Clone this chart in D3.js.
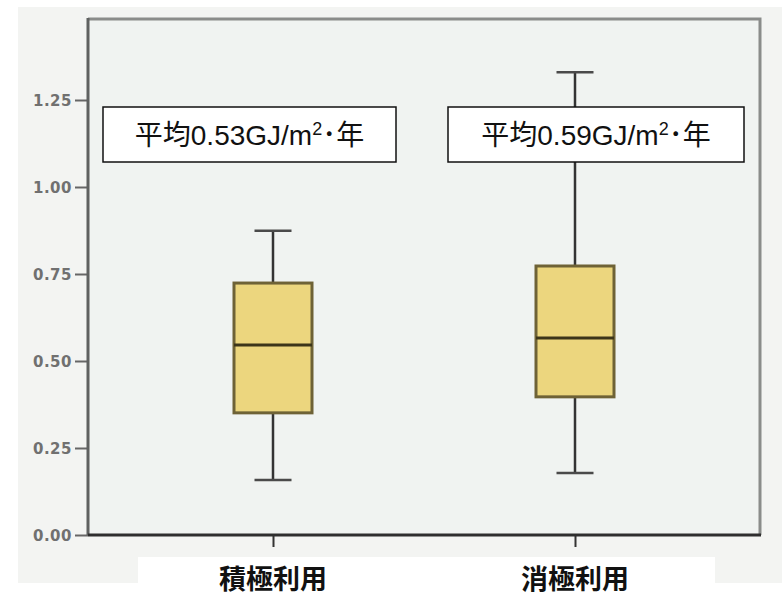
<!DOCTYPE html>
<html>
<head>
<meta charset="utf-8">
<script src="https://cdn.jsdelivr.net/npm/d3@7"></script>
<style>
  body { margin:0; background:#fff; }
  svg { display:block; }
</style>
</head>
<body>
<svg id="chart" width="782" height="600"></svg>
<script>
// categories and box statistics
var categories = ["積極利用", "消極利用"];
var whiskerLow  = [0.158, 0.178];
var q1          = [0.351, 0.397];
var medians     = [0.546, 0.566];
var q3          = [0.724, 0.773];
var whiskerHigh = [0.874, 1.330];
var means       = ["0.53", "0.59"];
var yTicks      = [0, 0.25, 0.5, 0.75, 1.0, 1.25];

var svg = d3.select("#chart");

var LEFT = 88, RIGHT = 760, TOP = 19, BOTTOM = 535;

var y = d3.scaleLinear().domain([0, 1.25]).range([BOTTOM, BOTTOM - 435]);
var x = d3.scalePoint().domain(categories).range([273, 575]);

// scanned paper background
svg.append("rect").attr("x",18).attr("y",7).attr("width",764).attr("height",576)
	.style("fill","#f3f4f2");
svg.append("rect").attr("x",88).attr("y",19).attr("width",672).attr("height",516)
	.style("fill","#f0f3f1");
// white strip behind the category labels
svg.append("rect").attr("x",138).attr("y",557).attr("width",577).attr("height",43)
	.style("fill","#ffffff");

// frame top + right
svg.append("path")
	.attr("d","M"+LEFT+","+TOP+"H"+RIGHT+"V"+BOTTOM)
	.style("fill","none").style("stroke","#8a8c8a").style("stroke-width",3);

// y axis
var yAxis = d3.axisLeft(y).tickValues(yTicks).tickSize(13).tickPadding(3)
	.tickFormat(d3.format(".2f"));
var gy = svg.append("g").attr("transform","translate("+LEFT+",0)").call(yAxis);
gy.attr("font-size",null).attr("font-family",null);
gy.select(".domain").remove();
gy.selectAll(".tick line").style("stroke","#666").style("stroke-width",2);
gy.selectAll(".tick text")
	.attr("dy","0.36em")
	.style("font-family","'DejaVu Sans',sans-serif")
	.style("font-weight","bold")
	.style("font-size","15px")
	.style("letter-spacing","0.5px")
	.style("fill","#707070");
svg.append("line").attr("x1",LEFT).attr("x2",LEFT).attr("y1",TOP-1).attr("y2",BOTTOM)
	.style("stroke","#5f6160").style("stroke-width",3);

// x axis
var xAxis = d3.axisBottom(x).tickSize(12).tickFormat("");
var gx = svg.append("g").attr("transform","translate(0,"+BOTTOM+")").call(xAxis);
gx.select(".domain").remove();
gx.selectAll(".tick line").style("stroke","#333").style("stroke-width",2);
svg.append("line").attr("x1",LEFT).attr("x2",RIGHT+1).attr("y1",BOTTOM).attr("y2",BOTTOM)
	.style("stroke","#2e2e2e").style("stroke-width",3);

// boxes
var BOX_W = 78, CAP_W = 37;
var boxes = svg.append("g").attr("id","boxes");
categories.forEach(function(c, i){
	var cx = x(c);
	var g = boxes.append("g");
	// whiskers
	g.append("line").attr("x1",cx).attr("x2",cx).attr("y1",y(whiskerHigh[i])).attr("y2",y(q3[i]))
		.style("stroke","#333").style("stroke-width",2.5);
	g.append("line").attr("x1",cx).attr("x2",cx).attr("y1",y(q1[i])).attr("y2",y(whiskerLow[i]))
		.style("stroke","#333").style("stroke-width",2.5);
	[whiskerHigh[i], whiskerLow[i]].forEach(function(v){
		g.append("line").attr("x1",cx-CAP_W/2).attr("x2",cx+CAP_W/2).attr("y1",y(v)).attr("y2",y(v))
			.style("stroke","#4a4a4a").style("stroke-width",2.5);
	});
	// box
	g.append("rect")
		.attr("x",cx-BOX_W/2).attr("width",BOX_W)
		.attr("y",y(q3[i])).attr("height",y(q1[i])-y(q3[i]))
		.style("fill","#ecd67e").style("stroke","#6e6236").style("stroke-width",3);
	// median
	g.append("line").attr("x1",cx-BOX_W/2).attr("x2",cx+BOX_W/2).attr("y1",y(medians[i])).attr("y2",y(medians[i]))
		.style("stroke","#3c3519").style("stroke-width",3);
});

// mean annotation boxes
var annoX = [103, 448], ANNO_W = [293, 296], ANNO_Y = 107, ANNO_H = 55;
categories.forEach(function(c, i){
	var g = svg.append("g");
	g.append("rect").attr("x",annoX[i]).attr("y",ANNO_Y).attr("width",ANNO_W[i]).attr("height",ANNO_H)
		.style("fill","#fff").style("stroke","#111").style("stroke-width",1.5);
	var t = g.append("text")
		.attr("x",annoX[i]+ANNO_W[i]/2).attr("y",ANNO_Y+ANNO_H/2+10)
		.attr("text-anchor","middle")
		.style("font-family","'Liberation Sans','Noto Sans CJK JP',sans-serif")
		.style("font-size","28px").style("fill","#111");
	t.append("tspan").text("平均"+means[i]+"GJ/m");
	t.append("tspan").attr("dy",-10).style("font-size","18px").text("2");
	t.append("tspan").attr("dy",10).text("･年");
});

// category labels
svg.selectAll(".catLabel").data(categories).enter()
	.append("text")
	.attr("class","catLabel")
	.attr("x",function(d){return x(d);})
	.attr("y",589)
	.attr("text-anchor","middle")
	.style("font-family","'Noto Sans CJK JP',sans-serif")
	.style("font-weight","bold")
	.style("font-size","27px")
	.style("fill","#111")
	.text(function(d){return d;});
</script>
</body>
</html>
